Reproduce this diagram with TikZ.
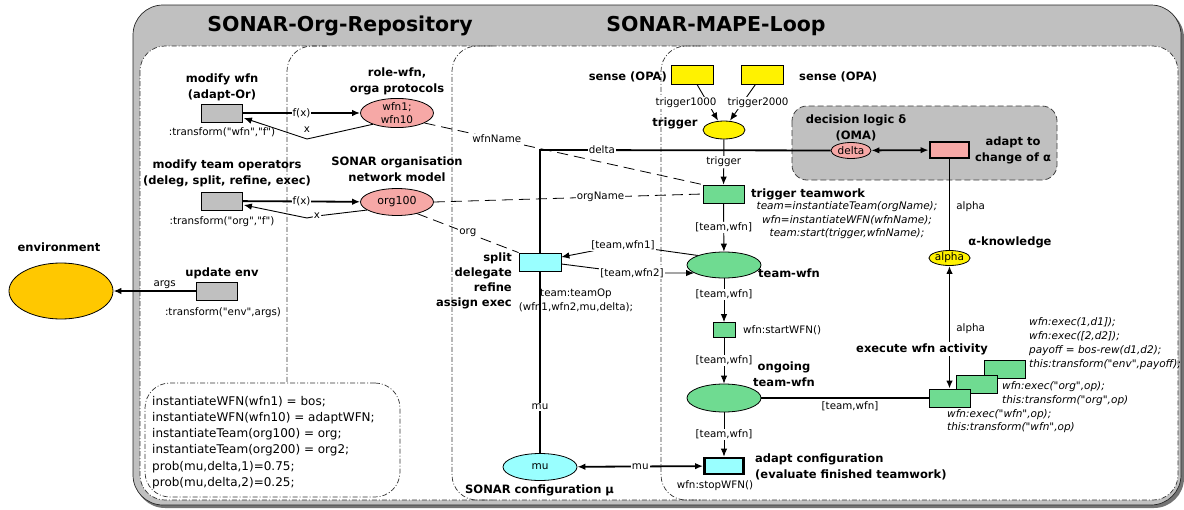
\documentclass[tikz,border=0pt]{standalone}
\usepackage{fontspec}
\setmainfont{DejaVu Sans}[Ligatures=TeXOff]
\usetikzlibrary{arrows.meta,shapes.geometric,calc}
\pgfdeclarelayer{back}
\pgfdeclarelayer{edges}
\pgfsetlayers{back,edges,main}

\definecolor{boxgray}{RGB}{192,192,192}
\definecolor{pinkfill}{RGB}{246,168,166}
\definecolor{cyanfill}{RGB}{153,255,255}
\definecolor{greenfill}{RGB}{111,219,145}
\definecolor{envfill}{RGB}{255,200,0}

\tikzset{
  ttl/.style={font=\fontsize{20.5}{24}\selectfont\bfseries, inner sep=0pt},
  hdr/.style={font=\fontsize{11.5}{16}\selectfont\bfseries, align=center, inner sep=0pt},
  lbl/.style={font=\fontsize{10.3}{13}\selectfont, inner sep=1pt},
  onl/.style={lbl, fill=white},
  ital/.style={font=\fontsize{10.5}{13.5}\selectfont\itshape, inner sep=0pt},
  codetext/.style={font=\fontsize{12}{16.2}\selectfont, align=left, inner sep=0pt},
  trbox/.style={draw=black, line width=0.8pt, minimum width=41pt, minimum height=18pt, inner sep=0pt},
  heavy/.style={trbox, line width=2.8pt, minimum width=39pt, minimum height=16pt},
  pl/.style={ellipse, draw=black, line width=0.8pt, inner sep=0pt, font=\fontsize{10.5}{12.5}\selectfont, align=center},
  thickl/.style={line width=1.8pt},
  thinl/.style={line width=0.9pt},
  arr/.style={-{Latex[length=8pt,width=6.5pt]}},
  arrb/.style={{Latex[length=8pt,width=6.5pt]}-{Latex[length=8pt,width=6.5pt]}},
  dd/.style={draw=black!80, line width=0.7pt, dash pattern=on 5pt off 2pt on 1pt off 2pt},
  ld/.style={line width=0.8pt, dash pattern=on 11pt off 6pt},
}

\begin{document}
\begin{tikzpicture}[x=1pt,y=-1pt]
\useasboundingbox (0,0) rectangle (1184,509);

% ---------- frame, partitions ----------
\begin{pgfonlayer}{back}
  \fill[black!55, rounded corners=30] (135,8) rectangle (1184,508);
  \draw[fill=boxgray, draw=black!85, line width=0.7pt, rounded corners=30] (133,5) rectangle (1181,505);
  \fill[white, rounded corners=25] (140,46) rectangle (1178,500);
  \draw[dd, rounded corners=25] (140,46) rectangle (1178,500);
  \draw[dd, rounded corners=25] (327,46) -- (287,46) -- (287,383);
  \draw[dd, rounded corners=25] (492,46) -- (452,46) -- (452,500) -- (492,500);
  \draw[dd, rounded corners=25] (701,46) -- (661,46) -- (661,500) -- (701,500);
  % decision logic area
  \draw[fill=boxgray, draw=black!75, line width=0.8pt, dash pattern=on 6pt off 3pt, rounded corners=15]
    (792,106) rectangle (1057,180);
\end{pgfonlayer}

\node[ttl] (tRepo) at (340,26) {SONAR-Org-Repository};
\node[ttl] (tMape) at (716,26) {SONAR-MAPE-Loop};

% ---------- repository side ----------
\node[hdr] (hModWfn) at (222,87) {modify wfn\\(adapt-Or)};
\node[trbox, fill=boxgray] (mw) at (222,113) {};
\node[lbl] (lTrWfn) at (222,132) {:transform("wfn","f")};

\node[hdr] (hRole) at (397,81) {role-wfn,\\orga protocols};
\node[pl, fill=pinkfill, minimum width=73pt, minimum height=29pt] (wfn) at (397,113) {wfn1;\\wfn10};

\node[hdr] (hModTeam) at (227,173) {modify team operators\\(deleg, split, refine, exec)};
\node[trbox, fill=boxgray] (mt) at (222,201) {};
\node[lbl] (lTrOrg) at (222,222) {:transform("org","f")};

\node[hdr] (hOrg) at (397,169) {SONAR organisation\\network model};
\node[pl, fill=pinkfill, minimum width=73pt, minimum height=27pt, font=\fontsize{11}{13}\selectfont] (org) at (397,202) {org100};

\node[hdr] (hUpd) at (222,273) {update env};
\node[trbox, fill=boxgray] (ue) at (217,291) {};
\node[lbl] (lTrEnv) at (223,313) {:transform("env",args)};

\node[hdr] (hEnv) at (59,247) {environment};
\node[pl, fill=envfill, minimum width=104pt, minimum height=56pt] (env) at (61,291) {};

\node[draw=black!80, line width=0.7pt, dash pattern=on 5pt off 2pt on 1pt off 2pt, fill=white,
      rounded corners=25, minimum width=255pt, minimum height=114pt] (codeBox) at (272.5,440) {};
\node[codetext, anchor=west] (codeTxt) at (152,442.5) {instantiateWFN(wfn1) = bos;\\
  instantiateWFN(wfn10) = adaptWFN;\\
  instantiateTeam(org100) = org;\\
  instantiateTeam(org200) = org2;\\
  prob(mu,delta,1)=0.75;\\
  prob(mu,delta,2)=0.25;};

% ---------- configuration ----------
\node[hdr, anchor=east, align=right, font=\fontsize{11.5}{15}\selectfont\bfseries] (hSplit) at (512,280.5)
  {split\\delegate\\refine\\assign exec};
\node[trbox, fill=cyanfill, minimum width=42pt] (split) at (540,262) {};
\node[lbl, align=center, font=\fontsize{10.3}{14}\selectfont] (lTeamOp) at (576,300) {team:teamOp\\(wfn1,wfn2,mu,delta);};
\node[pl, fill=cyanfill, minimum width=74pt, minimum height=27pt] (mu) at (540,467) {mu};
\node[hdr, anchor=west] (hCfg) at (465,490) {SONAR configuration μ};
\coordinate (corner) at (540,150);

% ---------- MAPE loop ----------
\node[hdr, anchor=east] (hSense1) at (667,77) {sense (OPA)};
\node[hdr, anchor=west] (hSense2) at (799,77) {sense (OPA)};
\node[trbox, fill=yellow, minimum width=42pt, minimum height=19pt] (s1) at (692,74.5) {};
\node[trbox, fill=yellow, minimum width=42pt, minimum height=19pt] (s2) at (762.5,74.5) {};
\node[hdr] (hTrig) at (675,123) {trigger};
\node[pl, fill=yellow, minimum width=42pt, minimum height=18pt] (trig) at (724,130) {};

\node[trbox, fill=greenfill] (tt) at (723.5,194) {};
\node[hdr, anchor=west] (hTT) at (751,194) {trigger teamwork};
\node[ital, align=center] (lTT) at (847,220.5)
  {team=instantiateTeam(orgName);\\wfn=instantiateWFN(wfnName);\\team:start(trigger,wfnName);};

\node[pl, fill=greenfill, minimum width=74pt, minimum height=26pt] (tw) at (724,265) {};
\node[hdr, anchor=west] (hTW) at (758,273) {team-wfn};

\node[trbox, fill=greenfill, minimum width=22pt, minimum height=15pt] (sw) at (724,330) {};
\node[lbl, anchor=west] (lSW) at (742,330) {wfn:startWFN()};

\node[pl, fill=greenfill, minimum width=74pt, minimum height=28pt] (og) at (724,398) {};
\node[hdr] (hOng) at (784,374) {ongoing\\team-wfn};

\node[heavy, fill=cyanfill] (adc) at (724,466) {};
\node[lbl] (lStop) at (715,486) {wfn:stopWFN()};
\node[hdr, anchor=west, align=left] (hAdC) at (755,466.5) {adapt configuration\\(evaluate finished teamwork)};

\node[hdr] (hDec) at (856,127.5) {decision logic δ\\(OMA)};
\node[pl, fill=pinkfill, minimum width=40pt, minimum height=16pt] (delta) at (851,150.5) {delta};
\node[heavy, fill=pinkfill] (ach) at (949.5,150) {};
\node[hdr] (hAdA) at (1013,150.5) {adapt to\\change of α};

\node[pl, fill=yellow, minimum width=41pt, minimum height=15pt] (al) at (949.5,258) {alpha};
\node[hdr] (hAK) at (1010,242) {α-knowledge};

\node[trbox, fill=greenfill] (ex3) at (1005,369.5) {};
\node[trbox, fill=greenfill] (ex2) at (976.5,384) {};
\node[trbox, fill=greenfill] (ex1) at (949.5,398) {};
\node[hdr, fill=white, inner sep=1pt] (hExec) at (922,349) {execute wfn activity};
\node[ital, anchor=west, align=left] (lEx1) at (947,421) {wfn:exec("wfn",op);\\this:transform("wfn",op)};
\node[ital, anchor=west, align=left] (lEx2) at (1002,393.5) {wfn:exec("org",op);\\this:transform("org",op)};
\node[ital, anchor=west, align=left, font=\fontsize{10.5}{14}\selectfont\itshape] (lEx3) at (1029,344)
  {wfn:exec(1,d1]);\\wfn:exec([2,d2]);\\payoff = bos-rew(d1,d2);\\this:transform("env",payoff);};

% edge labels that sit beside their lines
\node[onl] (lT1000) at (686,103) {trigger1000};
\node[onl] (lT2000) at (758,103) {trigger2000};
\node[onl] (lWfn1) at (623,245) {[team,wfn1]};
\node[onl] (lWfn2) at (632,273) {[team,wfn2]};
\node[lbl] (xl1) at (307,130) {x};
\node[onl] (xl2) at (317,216) {x};
\coordinate (xb1) at (307,139);
\coordinate (xb2) at (307,218);

% ---------- connectors ----------
\begin{pgfonlayer}{edges}
  \draw[thickl, arr] (mw) -- node[onl, pos=0.5]{f(x)} (wfn);
  \draw[thinl, arr] (wfn.205) -- (xb1) -- ($(mw.east)+(1,5)$);
  \draw[thickl, arr] (mt) -- node[onl, pos=0.5]{f(x)} (org);
  \draw[thinl] (org.195) -- (xl2);
  \draw[thinl, arr] (xl2) -- (xb2) -- ($(mt.east)+(1,4)$);
  \draw[thickl, arr] (ue) -- node[lbl, above, pos=0.38]{args} (env);

  \draw[ld] (wfn.-20) -- node[onl, pos=0.26]{wfnName} (tt.north west);
  \draw[ld] (org.east) -- node[onl, pos=0.62]{orgName} (tt.west);
  \draw[ld] (org.-30) -- node[onl, pos=0.5]{org} (split.north west);

  \draw[thickl] (mu) -- node[onl, pos=0.153]{mu} (corner) -- node[onl, pos=0.213]{delta} (delta);
  \draw[thickl, arrb] (mu) -- node[onl]{mu} (adc);

  \draw[thinl, arr] ($(s1.south)+(5,0)$) -- ($(trig.north)+(-6,0)$);
  \draw[thinl, arr] ($(s2.south)+(-7,0)$) -- ($(trig.north)+(6,0)$);
  \draw[thinl, arr] (trig) -- node[onl]{trigger} (tt);
  \draw[thinl, arr] (tt) -- node[onl]{[team,wfn]} (tw);
  \draw[thinl, arr] (tw.160) -- (lWfn1) -- ($(split.east)+(0,-5)$);
  \draw[thinl, arr] ($(split.east)+(0,2)$) -- (lWfn2) -- (tw.195);
  \draw[thinl, arr] (tw) -- node[onl, pos=0.36]{[team,wfn]} (sw);
  \draw[thinl, arr] (sw) -- node[onl]{[team,wfn]} (og);
  \draw[thinl, arr] (og) -- node[onl]{[team,wfn]} (adc);
  \draw[thickl] (og) -- node[lbl, below=2pt, pos=0.53]{[team,wfn]} (ex1.west);

  \draw[thickl, arrb] (delta) -- (ach);
  \draw[thickl] (ach) -- node[lbl, right=5pt, pos=0.52]{alpha} (al);
  \draw[thickl, arrb] (ex1.north) -- node[lbl, right=5pt, pos=0.49]{alpha} (al);
\end{pgfonlayer}
\end{tikzpicture}
\end{document}
